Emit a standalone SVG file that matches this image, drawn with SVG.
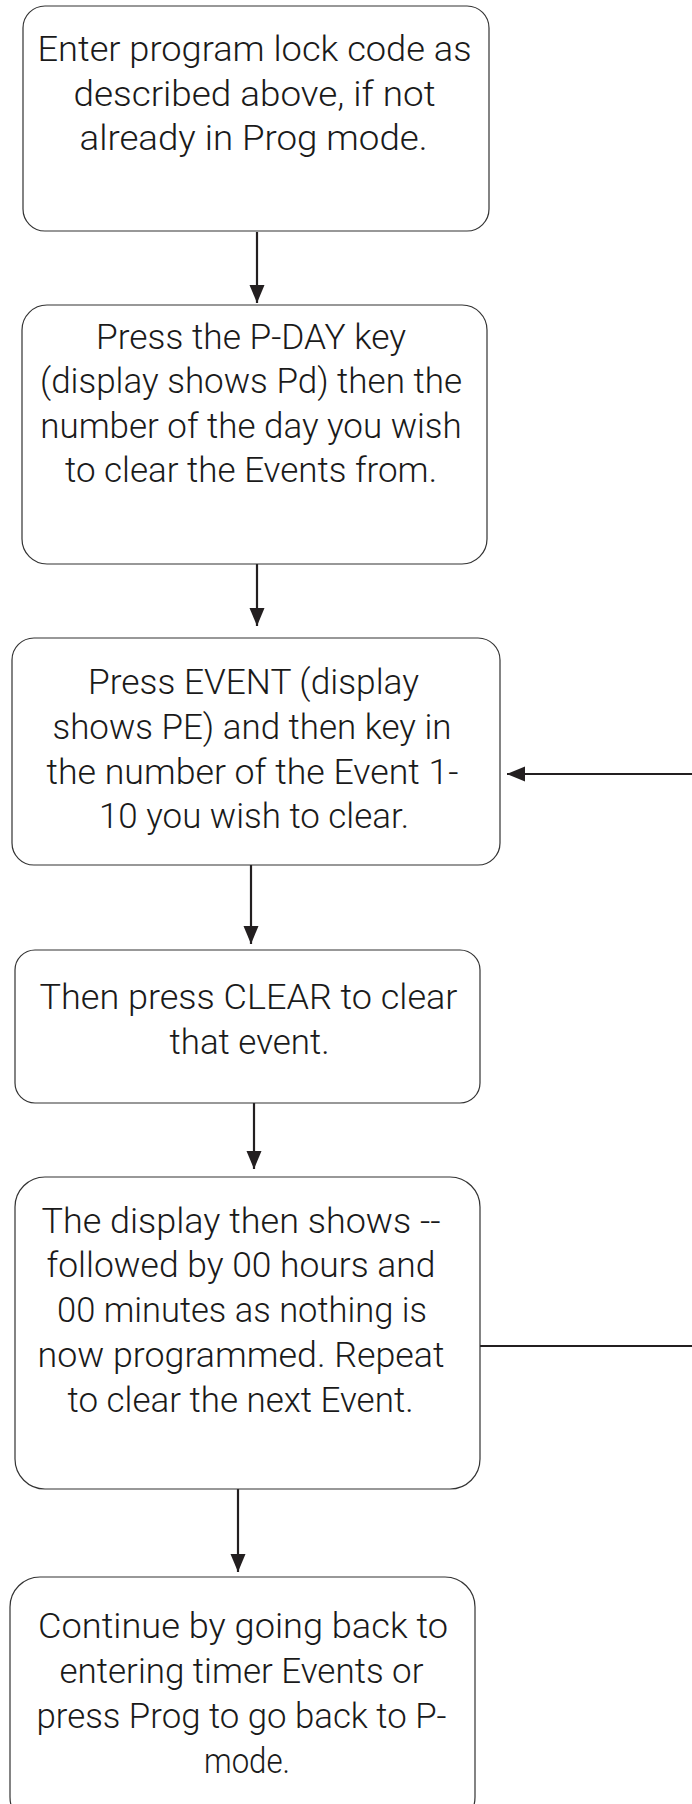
<svg xmlns="http://www.w3.org/2000/svg" width="692" height="1804" viewBox="0 0 692 1804">
  <style>
    .box { fill: #ffffff; stroke: #333333; stroke-width: 1.2; }
    .lbl { font-family: "Roboto", "Liberation Sans", sans-serif; font-weight: 300; font-size: 34.5px; fill: #1a1a1a; text-anchor: middle; }
    .wire { fill: none; stroke: #231f20; stroke-width: 2.2; }
  </style>
  <defs>
    <marker id="head" markerUnits="userSpaceOnUse" markerWidth="20" markerHeight="16" refX="18" refY="7.5" orient="auto">
      <path d="M0,0 L18,7.5 L0,15 Z" fill="#231f20"/>
    </marker>
  </defs>
  <rect width="692" height="1804" fill="#ffffff"/>

  <g id="connectors">
    <line class="wire" x1="257" y1="232" x2="257" y2="303" marker-end="url(#head)"/>
    <line class="wire" x1="257" y1="564" x2="257" y2="626" marker-end="url(#head)"/>
    <line class="wire" x1="251" y1="865" x2="251" y2="944" marker-end="url(#head)"/>
    <line class="wire" x1="254" y1="1103" x2="254" y2="1169" marker-end="url(#head)"/>
    <line class="wire" x1="238" y1="1489" x2="238" y2="1572" marker-end="url(#head)"/>
    <!-- loop back: from the "repeat" step round to the event entry step -->
    <line class="wire" x1="480" y1="1346" x2="692" y2="1346"/>
    <line class="wire" x1="692" y1="774" x2="507" y2="774" marker-end="url(#head)"/>
  </g>

  <g id="step-enter-code">
    <rect class="box" x="23" y="6" width="466" height="225" rx="22" ry="22"/>
    <text class="lbl" x="254.5" y="61" textLength="434" lengthAdjust="spacingAndGlyphs">Enter program lock code as</text>
    <text class="lbl" x="254.5" y="105.5" textLength="362" lengthAdjust="spacingAndGlyphs">described above, if not</text>
    <text class="lbl" x="253.5" y="150" textLength="348" lengthAdjust="spacingAndGlyphs">already in Prog mode.</text>
  </g>

  <g id="step-pick-day">
    <rect class="box" x="22" y="305" width="465" height="259" rx="25" ry="25"/>
    <text class="lbl" x="251" y="348.5" textLength="310" lengthAdjust="spacingAndGlyphs">Press the P-DAY key</text>
    <text class="lbl" x="251" y="393" textLength="422" lengthAdjust="spacingAndGlyphs">(display shows Pd) then the</text>
    <text class="lbl" x="251" y="437.5" textLength="421.5" lengthAdjust="spacingAndGlyphs">number of the day you wish</text>
    <text class="lbl" x="251" y="482" textLength="372" lengthAdjust="spacingAndGlyphs">to clear the Events from.</text>
  </g>

  <g id="step-pick-event">
    <rect class="box" x="12" y="638" width="488" height="227" rx="22" ry="22"/>
    <text class="lbl" x="253.5" y="694" textLength="331" lengthAdjust="spacingAndGlyphs">Press EVENT (display</text>
    <text class="lbl" x="252" y="739" textLength="399" lengthAdjust="spacingAndGlyphs">shows PE) and then key in</text>
    <text class="lbl" x="252.5" y="783.5" textLength="412" lengthAdjust="spacingAndGlyphs">the number of the Event 1-</text>
    <text class="lbl" x="254" y="828" textLength="310" lengthAdjust="spacingAndGlyphs">10 you wish to clear.</text>
  </g>

  <g id="step-clear">
    <rect class="box" x="15" y="950" width="465" height="153" rx="20" ry="20"/>
    <text class="lbl" x="248.5" y="1009" textLength="418" lengthAdjust="spacingAndGlyphs">Then press CLEAR to clear</text>
    <text class="lbl" x="249.5" y="1053.5" textLength="160" lengthAdjust="spacingAndGlyphs">that event.</text>
  </g>

  <g id="step-repeat">
    <rect class="box" x="15" y="1177" width="465" height="312" rx="30" ry="30"/>
    <text class="lbl" x="241" y="1232.5" textLength="399" lengthAdjust="spacingAndGlyphs">The display then shows --</text>
    <text class="lbl" x="241" y="1277" textLength="389" lengthAdjust="spacingAndGlyphs">followed by 00 hours and</text>
    <text class="lbl" x="242" y="1321.5" textLength="370" lengthAdjust="spacingAndGlyphs">00 minutes as nothing is</text>
    <text class="lbl" x="241" y="1366.5" textLength="407" lengthAdjust="spacingAndGlyphs">now programmed. Repeat</text>
    <text class="lbl" x="240.5" y="1411.5" textLength="346" lengthAdjust="spacingAndGlyphs">to clear the next Event.</text>
  </g>

  <g id="step-continue">
    <rect class="box" x="10" y="1577" width="465" height="250" rx="30" ry="30"/>
    <text class="lbl" x="243" y="1638" textLength="410" lengthAdjust="spacingAndGlyphs">Continue by going back to</text>
    <text class="lbl" x="241.5" y="1683" textLength="364" lengthAdjust="spacingAndGlyphs">entering timer Events or</text>
    <text class="lbl" x="241.5" y="1728" textLength="410" lengthAdjust="spacingAndGlyphs">press Prog to go back to P-</text>
    <text class="lbl" x="247" y="1773" textLength="86" lengthAdjust="spacingAndGlyphs">mode.</text>
  </g>
</svg>
